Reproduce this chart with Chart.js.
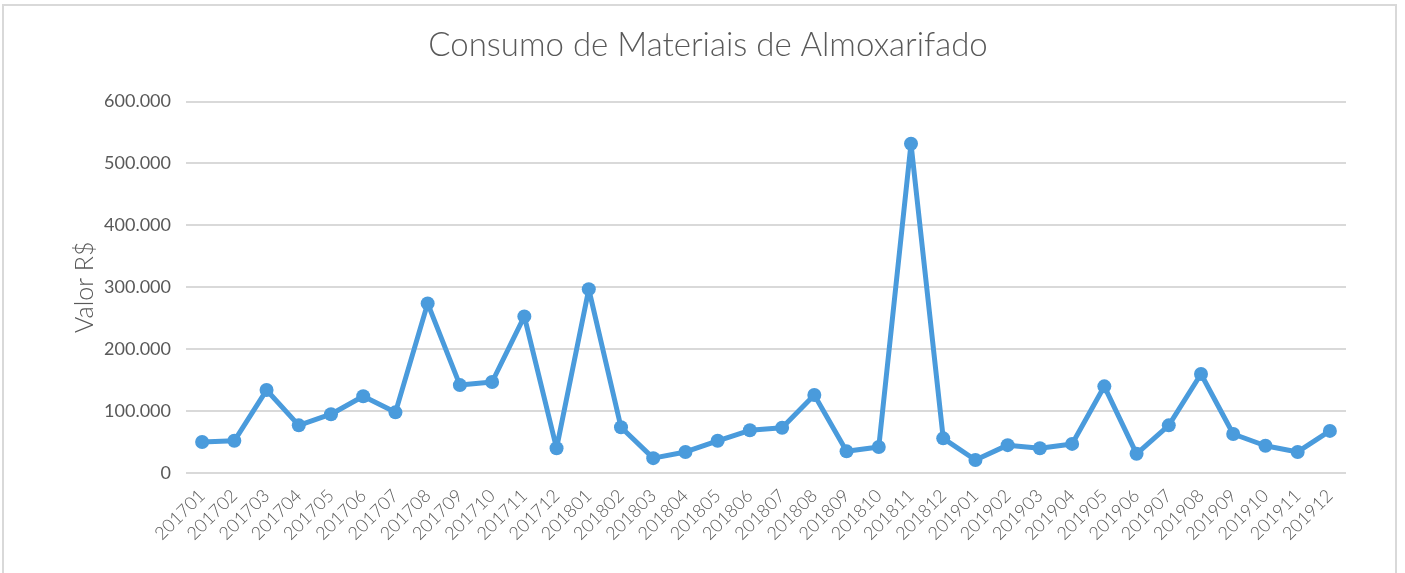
<!DOCTYPE html>
<html>
<head>
<meta charset="utf-8">
<script src="https://cdn.jsdelivr.net/npm/chart.js@4/dist/chart.umd.min.js"></script>
<style>
  html,body{margin:0;padding:0;background:#fff;}
  #moldura{position:absolute;left:2px;top:4px;width:1395px;height:600px;border:2px solid #d9d9d9;box-sizing:border-box;}
  #wrap{position:absolute;left:0;top:0;width:1405px;height:573px;}
</style>
</head>
<body>
<div id="moldura"></div>
<div id="wrap"><canvas id="grafico" width="1405" height="573"></canvas></div>
<script>
const meses=["201701","201702","201703","201704","201705","201706","201707","201708","201709","201710","201711","201712",
  "201801","201802","201803","201804","201805","201806","201807","201808","201809","201810","201811","201812",
  "201901","201902","201903","201904","201905","201906","201907","201908","201909","201910","201911","201912"];
const valores=[50000,52000,134000,77000,95000,124000,98000,274000,142000,147000,253000,40000,
  297000,74000,24000,34000,52000,69000,73000,126000,35000,42000,532000,56000,
  21000,45000,40000,47000,140000,31000,77000,160000,63000,44000,34000,68000];
const titulo="Consumo de Materiais de Almoxarifado";
const tituloY="Valor R$";

const fonte="Lato";
const cinza="#595959";
const azul="#4a9bdc";

function formata(v){
    return String(v).replace(/\B(?=(\d{3})+(?!\d))/g,".");
}

new Chart("grafico",{
    type:"line",
    data:{
        labels:meses,
        datasets:[{
            data:valores,
            borderColor:azul,
            backgroundColor:azul,
            borderWidth:5,
            borderJoinStyle:"round",
            borderCapStyle:"round",
            pointRadius:7,
            pointBorderWidth:0,
            tension:0
        }]
    },
    options:{
        responsive:false,
        animation:false,
        devicePixelRatio:1,
        layout:{padding:{left:70,right:59,top:0,bottom:0}},
        plugins:{
            legend:{display:false},
            tooltip:{enabled:false},
            title:{
                display:true,
                text:titulo,
                color:cinza,
                font:{family:fonte,size:33,weight:"300"},
                padding:{top:26,bottom:36}
            }
        },
        scales:{
            x:{
                offset:true,
                grid:{display:false},
                border:{display:false},
                ticks:{
                    color:cinza,
                    font:{family:fonte,size:18,weight:"300"},
                    minRotation:45,
                    maxRotation:45,
                    autoSkip:false,
                    padding:4
                },
                afterFit:(s)=>{s.height=100;}
            },
            y:{
                min:0,
                max:600000,
                grid:{color:"#d9d9d9",lineWidth:2,drawTicks:false},
                border:{display:false},
                ticks:{
                    stepSize:100000,
                    color:cinza,
                    font:{family:fonte,size:18},
                    padding:15,
                    callback:(v)=>formata(v)
                },
                title:{
                    display:true,
                    text:tituloY,
                    color:cinza,
                    font:{family:fonte,size:25,weight:"300"},
                    padding:0
                },
                afterFit:(s)=>{s.width=116;}
            }
        }
    }
});
</script>
</body>
</html>
